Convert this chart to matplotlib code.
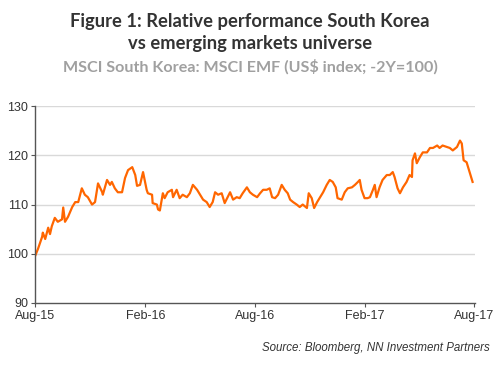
import matplotlib
matplotlib.use("Agg")
import matplotlib.pyplot as plt
import pandas as pd

start_date = "2015-08-01"
day_offsets = [0, 5, 12, 13, 17, 22, 25, 28, 33, 38, 45, 47, 50, 55, 62, 67, 72, 78, 83, 88,
               95, 100, 105, 112, 113, 120, 125, 128, 133, 138, 145, 150, 155, 162, 167, 170,
               175, 180, 186, 188, 195, 196, 203, 205, 208, 213, 216, 221, 228, 230, 236, 241,
               246, 253, 258, 263, 270, 275, 280, 286, 291, 296, 300, 305, 311, 316, 321, 325,
               330, 336, 341, 346, 353, 358, 363, 370, 375, 380, 386, 391, 395, 400, 405, 411,
               416, 421, 425, 430, 436, 441, 446, 453, 456, 461, 465, 470, 475, 480, 486, 491,
               496, 501, 504, 511, 516, 521, 528, 533, 538, 541, 544, 549, 554, 558, 563, 566,
               569, 574, 579, 586, 591, 596, 599, 604, 608, 613, 619, 624, 628, 629, 633, 636,
               641, 646, 653, 658, 663, 670, 674, 679, 686, 691, 696, 703, 708, 711, 714, 719,
               723, 728, 729]
values = [99.5, 101, 103.5, 104.3, 103, 105.3, 104, 105.6, 107.3, 106.5, 107, 109.4, 106.5,
          107.5, 109.5, 110.5, 110.5, 113.3, 112, 111.5, 110, 110.5, 114.3, 112.5, 112, 115,
          114, 114.6, 113.3, 112.5, 112.5, 115.4, 117, 117.6, 116, 113.8, 114, 116.6, 113,
          112.3, 112, 110.3, 110, 109, 108.8, 112.3, 111.3, 112.5, 113, 111.5, 113, 111.3,
          112, 111.5, 112.3, 114, 113, 112, 111, 110.5, 109.5, 110.5, 112.5, 112, 112.3,
          110.3, 111.5, 112.5, 111, 111.5, 111.3, 112.3, 113.5, 112.5, 112, 111.5, 112.3,
          113, 113, 113.3, 111.5, 111.3, 112, 114, 113, 112.3, 111, 110.5, 110, 109.5, 110,
          109.3, 112.3, 111.3, 109.3, 110.5, 111.5, 112.5, 114, 115, 114.6, 113.5, 111.3,
          111, 112.5, 113.3, 113.5, 114, 114.6, 115, 113, 111.3, 111.3, 111.5, 113, 114,
          111.5, 113.5, 115, 116, 116, 116.6, 115.6, 113.3, 112.3, 113.5, 114.6, 116, 115.6,
          119, 120.4, 118.4, 119.6, 120.6, 120.6, 121.5, 121.5, 122, 121.5, 122, 121.7,
          121.5, 121, 121.7, 123, 122.4, 119, 118.6, 117, 115, 114.6]
tick_labels = ["Aug-15", "Feb-16", "Aug-16", "Feb-17", "Aug-17"]
tick_dates = ["2015-08-01", "2016-02-01", "2016-08-01", "2017-02-01", "2017-08-01"]
y_ticks = [90, 100, 110, 120, 130]

dates = pd.Timestamp(start_date) + pd.to_timedelta(day_offsets, unit="D")

fig = plt.figure(figsize=(5, 3.75), dpi=100)
ax = fig.add_axes([0.07, 0.192, 0.88, 0.525])

ax.plot(dates, values, color="#FF6600", linewidth=1.6, solid_joinstyle="round")

ax.set_ylim(90, 130)
ax.set_yticks(y_ticks)
ax.set_xlim(pd.Timestamp(tick_dates[0]), pd.Timestamp(tick_dates[-1]) + pd.Timedelta(days=2))
ax.set_xticks([pd.Timestamp(d) for d in tick_dates])
ax.set_xticklabels(tick_labels)

for v in y_ticks[1:]:
    ax.axhline(v, color="#d9d9d9", linewidth=1.0, zorder=0)

for s in ["top", "right"]:
    ax.spines[s].set_visible(False)
for s in ["left", "bottom"]:
    ax.spines[s].set_color("#555555")
    ax.spines[s].set_linewidth(1.0)

ax.tick_params(axis="both", colors="#555555", length=3, width=0.8, labelsize=9,
               labelcolor="#333333", pad=2)
for lab in ax.get_xticklabels() + ax.get_yticklabels():
    lab.set_fontfamily("Liberation Sans")

fig.text(0.5, 0.943, "Figure 1: Relative performance South Korea", ha="center", va="center",
         fontsize=13.2, fontweight="bold", color="#333333", family="Lato")
fig.text(0.5, 0.885, "vs emerging markets universe", ha="center", va="center",
         fontsize=13.2, fontweight="bold", color="#333333", family="Lato")
fig.text(0.5, 0.822, "MSCI South Korea: MSCI EMF (US$ index; -2Y=100)", ha="center", va="center",
         fontsize=11.6, fontweight="bold", color="#a0a0a0", family="Lato")
fig.text(0.98, 0.072, "Source: Bloomberg, NN Investment Partners", ha="right", va="center",
         fontsize=8.3, style="italic", color="#333333", family="Liberation Sans")

fig.savefig("out.png", dpi=100)
